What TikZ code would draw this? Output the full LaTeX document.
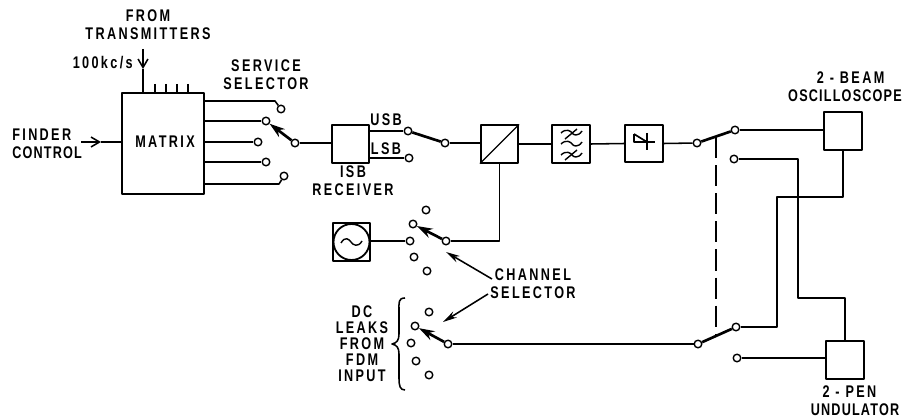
\documentclass[tikz,border=0pt]{standalone}
\usepackage{fontspec}
\newfontfamily\lblfont[FakeStretch=0.75,LetterSpace=14,BoldFont={Liberation Sans Bold}]{Liberation Sans}
\newfontfamily\tightfont[FakeStretch=0.75,LetterSpace=7,BoldFont={Liberation Sans Bold}]{Liberation Sans}
\usepackage{tikz}
\usetikzlibrary{arrows.meta}
\tikzset{
  wire/.style={line width=1.1pt},
  wiper/.style={line width=1.9pt},
  term/.style={draw,circle,fill=white,line width=1pt,inner sep=0pt,minimum size=0.19cm},
  blockbox/.style={draw,line width=1.3pt,inner sep=0pt,minimum size=0.93cm},
  lbl/.style={align=center,font=\fontsize{12}{12.6}\lblfont\bfseries,inner sep=0pt},
}
\begin{document}
\begin{tikzpicture}[x=0.025cm,y=-0.025cm,line join=round]
  \useasboundingbox (0,0) rectangle (902,420);
  % blocks
  \node[blockbox,minimum width=2.05cm,minimum height=2.52cm] (matrix) at (163,143.5) {};
  \node[lbl] (matrixtxt) at (165,142) {MATRIX};
  \node[blockbox] (isb) at (350.5,144) {};
  \node[blockbox] (mod) at (499.5,144) {};
  \node[blockbox] (lpf) at (571,144) {};
  \node[blockbox] (rect) at (644,143.5) {};
  \node[blockbox] (scope) at (843,131) {};
  \node[blockbox] (pen) at (845,360) {};
  \node[blockbox] (osc) at (351.5,242) {};
  % terminals
  \foreach \n/\x/\y in {s1/281/109, s2/266/121, s3/258/142, s4/266/162, s5/284/176, sc/295/143,
      usb/408/131, lsb/409/158, uc/445/143,
      a1/426/210, a2/413/224, a3/410/241, a4/414/257, a5/427/271, ac/446/241,
      b1/429/312, b2/415/326, b3/411/343, b4/416/361, b5/429/375, bc/448/344,
      p1/735/130, p2/734/159, pc/697/143,
      q1/736/327, q2/737/358, qc/698/344} {
    \node[term] (\n) at (\x,\y) {};
  }
  \coordinate (s1b) at (275,101);
  \coordinate (s5b) at (279,184);
  \coordinate (fromtop) at (143,49);
  \coordinate (fromtip) at (143,69);
  \coordinate (findl) at (81,142);
  \coordinate (findtip) at (101,142);
  % matrix in and out
  \draw[wire,-{Straight Barb[length=6pt,width=7pt]}] (fromtop) -- (fromtip);
  \draw[wire] (fromtip) -- (fromtip |- matrix.north);
  \draw[wire,-{Straight Barb[length=6pt,width=7pt]}] (findl) -- (findtip);
  \draw[wire] (findtip) -- (matrix.west |- findtip);
  \foreach \x in {155,166,177,188} {
    \draw[wire] (\x,84) -- (\x,93);
  }
  \draw[wire] (matrix.east |- s1b) -- (s1b) -- (s1);
  \draw[wire] (matrix.east |- s2) -- (s2);
  \draw[wire] (matrix.east |- s3) -- (s3);
  \draw[wire] (matrix.east |- s4) -- (s4);
  \draw[wire] (matrix.east |- s5b) -- (s5b) -- (s5);
  \draw[wiper,-{Stealth[length=11pt,width=7pt]}] (sc) -- (s2);
  \draw[wire] (sc) -- (isb.west |- sc);
  % receiver to scope
  \draw[wire] (isb.east |- usb) -- (usb);
  \draw[wire] (isb.east |- lsb) -- (lsb);
  \draw[wiper] (uc) -- (usb);
  \draw[wire] (uc) -- (mod.west |- uc);
  \draw[wire] (mod.east) -- (lpf.west);
  \draw[wire] (lpf.east) -- (rect.west);
  \draw[wire] (rect.east) -- (pc);
  \draw[wiper] (pc) -- (p1);
  \draw[wire] (p1) -- (scope.west |- p1);
  \draw[wire] (p2) -| (798,298) -| (pen.north);
  \draw[line width=1.3pt,dash pattern=on 15pt off 5pt] (716,137) -- (716,335);
  % block symbols
  \draw[line width=1pt] (mod.south west) -- (mod.north east);
  \foreach \y in {133,144,155} {
    \draw[line width=1pt] (561,\y) .. controls (566,\y-5) and (571,\y-2) .. (572,\y) .. controls (573,\y+2) and (578,\y+4) .. (582,\y-2);
  }
  \draw[line width=1pt] (565,139) -- (577,129);
  \draw[line width=1pt] (565,160) -- (577,150);
  \draw[line width=1.2pt] (634,134) -- (634,142) -- (655,142);
  \draw[line width=1.2pt] (634,134) -- (647,142);
  \draw[line width=1.2pt] (647,133) -- (647,150);
  \draw[line width=1.3pt] (osc.center) circle (18);
  \draw[line width=1pt] (341,243) .. controls (345,236) and (349,239) .. (351,242) .. controls (353,245) and (358,248) .. (362,241);
  % local oscillator selector
  \draw[wire] (osc.east |- a3) -- (a3);
  \draw[wiper,-{Stealth[length=11pt,width=7pt]}] (ac) -- (a2);
  \draw[wire] (ac) -| (mod.south);
  % dc leaks selector
  \draw[wiper,-{Stealth[length=11pt,width=7pt]}] (bc) -- (b2);
  \draw[wire] (bc) -- (qc);
  \draw[wiper] (qc) -- (q1);
  \draw[wire] (q1) -| (777,197) -| (scope.south);
  \draw[wire] (q2) -- (pen.west |- q2);
  \draw[line width=1.1pt] (405,298) .. controls (398,298) and (399,303) .. (399,310) -- (399,334) .. controls (399,340) and (397,343) .. (392,344) .. controls (397,345) and (399,348) .. (399,354) -- (399,378) .. controls (399,386) and (400,390) .. (405,390);
  % labels
  \coordinate (chan1) at (492,279);
  \coordinate (chan2) at (488,294);
  \coordinate (chantip1) at (446,252);
  \coordinate (chantip2) at (443,322);
  \draw[wire,-{Stealth[length=10pt,width=5pt]}] (chan1) -- (chantip1);
  \draw[wire,-{Stealth[length=10pt,width=5pt]}] (chan2) -- (chantip2);
  \node[lbl] (fromlbl) at (148,25) {FROM\\TRANSMITTERS};
  \node[lbl,anchor=east] (khzlbl) at (133,63) {100kc/s};
  \node[lbl] (servlbl) at (266,75) {SERVICE\\SELECTOR};
  \node[lbl,align=left,anchor=west] (findlbl) at (12,144) {FINDER\\{\tightfont\bfseries CONTROL}};
  \node[lbl] (usblbl) at (386,120) {USB};
  \node[lbl] (lsblbl) at (386,149) {LSB};
  \node[lbl] (isblbl) at (353,181) {ISB\\RECEIVER};
  \node[lbl] (chanlbl) at (533,284) {CHANNEL\\SELECTOR};
  \node[lbl,font=\fontsize{12}{11.4}\lblfont\bfseries] (dclbl) at (362,344) {DC\\LEAKS\\FROM\\FDM\\INPUT};
  \node[lbl] (scopelbl) at (845,87) {\hspace*{8pt}2 - BEAM\\{\tightfont\bfseries OSCILLOSCOPE}};
  \node[lbl] (penlbl) at (855,401) {2 - PEN\hspace*{8pt}\\{\tightfont\bfseries UNDULATOR}};
\end{tikzpicture}
\end{document}
